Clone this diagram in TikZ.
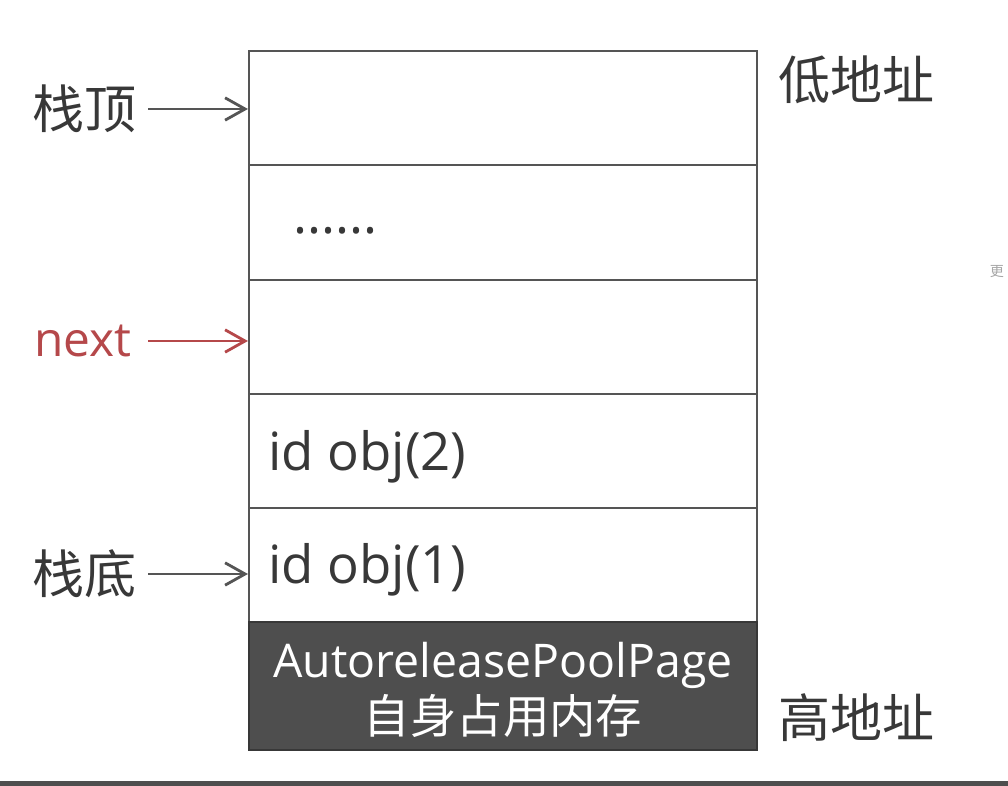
\documentclass[tikz,border=0pt]{standalone}
\usepackage{fontspec}
\setmainfont{Open Sans}
\newfontfamily\cjk{Noto Sans CJK SC}
\usetikzlibrary{arrows.meta, positioning}
\definecolor{linegray}{HTML}{555555}
\definecolor{textgray}{HTML}{383838}
\definecolor{nextred}{HTML}{B5484A}
\definecolor{darkbox}{HTML}{4E4E4E}

\begin{document}
\begin{tikzpicture}[x=0.025cm, y=-0.025cm,
    cell/.style={draw=linegray, line width=1.4pt, minimum width=12.7cm, minimum height=2.85cm, inner sep=0pt},
    ptr/.style={-{Straight Barb[length=0.5cm, width=0.56cm, line width=2pt]}, line width=1.4pt, draw=linegray},
    lbl/.style={inner sep=0pt, text=textgray, font=\cjk\fontsize{37}{44}\selectfont},
    entry/.style={inner sep=0pt, anchor=west, text=textgray, font=\fontsize{37.5}{44}\selectfont}]
                  \fill[white] (0,0) rectangle (1008,786);
                  \useasboundingbox (0,0) rectangle (1008,786);

                  % Draw the stack cells
                  \foreach \name/\y in {r1/108, r2/222.5, r3/337, r4/451, r5/565}
                  \node[cell] (\name) at (503,\y) {};
                  \node[cell, fill=darkbox, draw=textgray, minimum height=3.2cm] (r6) at (503,686) {};

                  % Cell contents
                  \node[entry] (dots) at (293,231) {......};
                  \node[entry] (obj2) at (268,457) {id obj(2)};
                  \node[entry] (obj1) at (268,570) {id obj(1)};
                  \node[text=white, inner sep=0pt, font=\fontsize{33}{40}\selectfont] (page) at (503,665) {AutoreleasePoolPage};
                  \node[text=white, inner sep=0pt, font=\cjk\fontsize{33}{40}\selectfont] (mem) at (503,716) {自身占用内存};

                  % Pointers into the stack
                  \coordinate (pTop) at (148,109);
                  \coordinate (pNext) at (148,341);
                  \coordinate (pBot) at (148,574);
                  \node[lbl, left=0.275cm of pTop] (top) {栈顶};
                  \node[lbl, left=0.4cm of pNext, text=nextred, font=\fontsize{34}{40}\selectfont] (next) {next};
                  \node[lbl, left=0.275cm of pBot] (bottom) {栈底};
                  \draw[ptr] (pTop) -- (pTop -| r1.west);
                  \draw[ptr, draw=nextred] (pNext) -- (pNext -| r3.west);
                  \draw[ptr] (pBot) -- (pBot -| r5.west);

                  % Address labels
                  \node[lbl, anchor=west] (low) at (778,80) {低地址};
                  \node[lbl, anchor=west] (high) at (778,718) {高地址};

                  % Screen edge (optional)
                  \node[inner sep=0pt, text=gray!70, font=\cjk\fontsize{10}{12}\selectfont] (more) at (997,272) {更};
                  \fill[darkbox] (0,781) rectangle (1008,786);
              \end{tikzpicture}
\end{document}
